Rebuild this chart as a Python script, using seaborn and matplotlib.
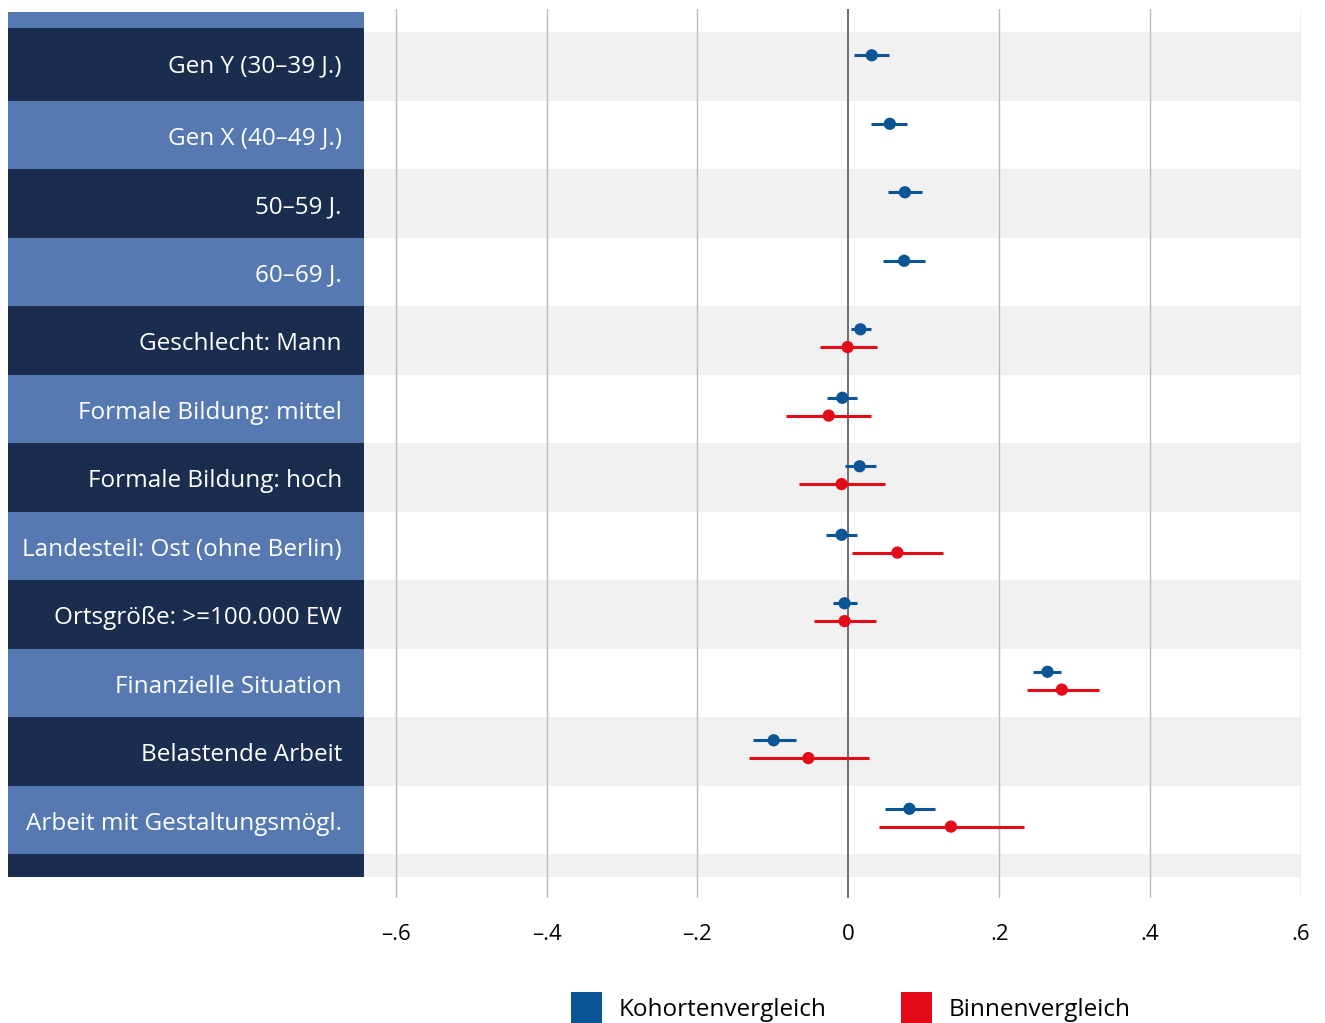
import numpy as np
import pandas as pd
import matplotlib
matplotlib.use('Agg')
import matplotlib.pyplot as plt
from matplotlib.patches import Rectangle
import seaborn as sns

# data
labels = ['Gen Y (30–39 J.)', 'Gen X (40–49 J.)', '50–59 J.', '60–69 J.',
          'Geschlecht: Mann', 'Formale Bildung: mittel', 'Formale Bildung: hoch',
          'Landesteil: Ost (ohne Berlin)', 'Ortsgröße: >=100.000 EW',
          'Finanzielle Situation', 'Belastende Arbeit', 'Arbeit mit Gestaltungsmögl.']

kohorte_coef = [0.031, 0.055, 0.075, 0.074, 0.016, -0.008, 0.015, -0.009, -0.005, 0.264, -0.099, 0.081]
kohorte_lo = [0.008, 0.030, 0.053, 0.046, 0.003, -0.028, -0.005, -0.029, -0.020, 0.245, -0.127, 0.048]
kohorte_hi = [0.054, 0.078, 0.098, 0.102, 0.030, 0.012, 0.036, 0.012, 0.011, 0.282, -0.070, 0.115]

nan = np.nan
binnen_coef = [nan, nan, nan, nan, -0.001, -0.026, -0.009, 0.065, -0.005, 0.283, -0.053, 0.136]
binnen_lo = [nan, nan, nan, nan, -0.038, -0.082, -0.066, 0.005, -0.046, 0.237, -0.132, 0.040]
binnen_hi = [nan, nan, nan, nan, 0.038, 0.030, 0.048, 0.126, 0.037, 0.332, 0.028, 0.233]

series = ['Kohortenvergleich', 'Binnenvergleich']
xticks = [-0.6, -0.4, -0.2, 0, 0.2, 0.4, 0.6]
xtick_labels = ['–.6', '–.4', '–.2', '0', '.2', '.4', '.6']

# styling
NAVY = '#1b2d4e'
MIDBLUE = '#5679b2'
BAND = '#f1f1f1'
COLORS = {'Kohortenvergleich': '#0b5597', 'Binnenvergleich': '#e30b18'}
OFFSET = {'Kohortenvergleich': -0.16, 'Binnenvergleich': 0.10}

sns.set_theme(style='white')
plt.rcParams['font.family'] = ['Open Sans', 'DejaVu Sans']

rows = []
for name, coef, lo, hi in [(series[0], kohorte_coef, kohorte_lo, kohorte_hi),
                           (series[1], binnen_coef, binnen_lo, binnen_hi)]:
    for i in range(len(labels)):
        if np.isnan(coef[i]):
            continue
        rows.append({'row': i, 'series': name, 'coef': coef[i], 'lo': lo[i], 'hi': hi[i],
                     'ypos': i + OFFSET[name]})
df = pd.DataFrame(rows)

W, H = 1325, 1023
fig = plt.figure(figsize=(W / 100, H / 100), dpi=100)
row_px = 68.5
ylim_top = -0.5 - (32 - 9) / row_px
ylim_bot = len(labels) - 0.5 + (898 - 854) / row_px
bottom = 1 - 898 / H
height = (898 - 9) / H

ax = fig.add_axes([364 / W, bottom, (1301 - 364) / W, height])
lab_ax = fig.add_axes([8 / W, bottom, (364 - 8) / W, height], sharey=ax)

# plot bands
for i in range(0, len(labels), 2):
    ax.axhspan(i - 0.5, i + 0.5, color=BAND, lw=0, zorder=0)
ax.axhspan(len(labels) - 0.5, len(labels) - 0.5 + 23 / row_px, color=BAND, lw=0, zorder=0)

for x in xticks:
    ax.axvline(x, color='#6e6e6e' if x == 0 else '#bababa', lw=1.4 if x == 0 else 1.0, zorder=1)

for name in series:
    d = df[df['series'] == name]
    ax.hlines(d['ypos'], d['lo'], d['hi'], color=COLORS[name], lw=2.2, zorder=3)
sns.scatterplot(data=df, x='coef', y='ypos', hue='series', palette=COLORS, s=78,
                edgecolor='none', legend=False, zorder=4, ax=ax)

ax.set_xlim(-0.642, 0.6)
ax.set_ylim(ylim_bot, ylim_top)
ax.set_xticks(xticks)
ax.set_xticklabels(xtick_labels)
ax.tick_params(axis='x', length=0, pad=19, labelsize=16, colors='black')
ax.set_yticks([])
ax.set_xlabel('')
ax.set_ylabel('')
for s in ax.spines.values():
    s.set_visible(False)

# label panel
lab_ax.axhspan(-0.5 - (32 - 12) / row_px, -0.5 - 4 / row_px, color=MIDBLUE, lw=0)
for i in range(len(labels)):
    top = -0.5 - 4 / row_px if i == 0 else i - 0.5
    lab_ax.text(0.938, i + (0.0 if i == 0 else 0.06), labels[i], transform=lab_ax.get_yaxis_transform(),
                ha='right', va='center', color='white', fontsize=17.5)
    lab_ax.axhspan(top, i + 0.5, color=NAVY if i % 2 == 0 else MIDBLUE, lw=0)
lab_ax.axhspan(len(labels) - 0.5, len(labels) - 0.5 + 23 / row_px, color=NAVY, lw=0)
lab_ax.set_xlim(0, 1)
lab_ax.axis('off')

# legend
for name, x0 in zip(series, [571, 901]):
    fig.patches.append(Rectangle((x0 / W, 0), 31 / W, 31 / H, transform=fig.transFigure,
                                 color=COLORS[name], lw=0))
    fig.text((x0 + 48) / W, 1 - 1010 / H, name, ha='left', va='center', fontsize=17.5, color='black')

fig.savefig('out.png', dpi=100)
